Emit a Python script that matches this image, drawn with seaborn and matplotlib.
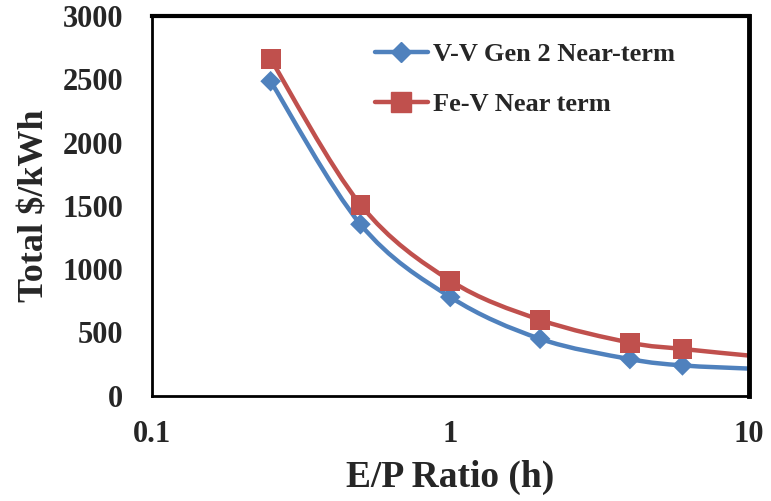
import numpy as np
import pandas as pd
import matplotlib
matplotlib.use("Agg")
import matplotlib.pyplot as plt
import seaborn as sns
from matplotlib.path import Path
from matplotlib.patches import PathPatch
from matplotlib.lines import Line2D
from matplotlib.ticker import FixedLocator, FixedFormatter, NullLocator

# datos
ratio = [0.25, 0.5, 1, 2, 4, 6]
vv_gen2 = [2485, 1355, 780, 450, 290, 240]
fev = [2660, 1510, 910, 600, 420, 370]
# la curva suavizada sigue hasta el borde derecho (E/P = 10)
ratio_fin = 10
vv_gen2_fin = 215
fev_fin = 318

series = ["V-V Gen 2 Near-term", "Fe-V Near term"]
colores = ["#4F81BD", "#C0504D"]
marcadores = ["D", "s"]
tamanos = [110, 205]

xticks = [0.1, 1, 10]
xtick_labels = ["0.1", "1", "10"]
yticks = [0, 500, 1000, 1500, 2000, 2500, 3000]

df = pd.DataFrame({
    "ratio": ratio * 2,
    "costo": vv_gen2 + fev,
    "serie": [series[0]] * len(ratio) + [series[1]] * len(ratio),
})

sns.set_style("white")
plt.rcParams["font.family"] = ["Liberation Serif", "DejaVu Serif"]
plt.rcParams["font.weight"] = "bold"


def curva_suave(xs, ys):
    # Catmull-Rom -> Bezier en espacio (log x, y), como la linea suavizada de Excel
    lx = np.log10(xs)
    pts = np.column_stack([lx, ys])
    verts = [pts[0]]
    codes = [Path.MOVETO]
    n = len(pts)
    for i in range(n - 1):
        p0 = pts[i - 1] if i > 0 else pts[i]
        p1 = pts[i]
        p2 = pts[i + 1]
        p3 = pts[i + 2] if i + 2 < n else pts[i + 1]
        c1 = p1 + (p2 - p0) / 6
        c2 = p2 - (p3 - p1) / 6
        verts += [c1, c2, p2]
        codes += [Path.CURVE4] * 3
    verts = np.array(verts)
    verts[:, 0] = 10 ** verts[:, 0]
    return Path(verts, codes)


fig = plt.figure(figsize=(7.71, 5.01), dpi=100)
ax = fig.add_axes([0.197, 0.21, 0.774, 0.758])
ax.set_xscale("log")

for ys, yfin, col in zip([vv_gen2, fev], [vv_gen2_fin, fev_fin], colores):
    p = curva_suave(ratio + [ratio_fin], ys + [yfin])
    ax.add_patch(PathPatch(p, facecolor="none", edgecolor=col, lw=3.2,
                           capstyle="round", joinstyle="round", zorder=2))

sns.scatterplot(data=df, x="ratio", y="costo", hue="serie", style="serie", size="serie",
                palette=colores, markers=marcadores, sizes=dict(zip(series, tamanos)),
                hue_order=series, style_order=series, size_order=series,
                edgecolor="none", legend=False, ax=ax, zorder=3)

ax.set_xlim(0.1, 10)
ax.set_ylim(0, 3000)
ax.xaxis.set_major_locator(FixedLocator(xticks))
ax.xaxis.set_major_formatter(FixedFormatter(xtick_labels))
ax.xaxis.set_minor_locator(NullLocator())
ax.set_yticks(yticks)

ax.tick_params(axis="both", which="major", labelsize=22, length=6.5, width=1.2,
               color="#888888", direction="out")
ax.tick_params(axis="y", pad=14)
ax.tick_params(axis="x", pad=11)
for lab in ax.get_xticklabels() + ax.get_yticklabels():
    lab.set_fontweight("bold")

for lado in ["top", "right", "left", "bottom"]:
    ax.spines[lado].set_color("black")
    ax.spines[lado].set_linewidth(2)
ax.spines["right"].set_linewidth(3.5)
ax.spines["top"].set_linewidth(3)

ax.set_xlabel("E/P Ratio (h)", fontsize=27, fontweight="bold", labelpad=8)
ax.set_ylabel("Total $/kWh", fontsize=26, fontweight="bold", labelpad=8)

handles = [Line2D([0], [0], color=c, lw=3.2, marker=m, markersize=np.sqrt(s), markeredgecolor=c)
           for c, m, s in zip(colores, marcadores, tamanos)]
ax.legend(handles, series, loc="upper left", bbox_to_anchor=(0.3735, 0.93),
          frameon=False, prop={"size": 19, "weight": "bold"}, handlelength=2.0,
          handletextpad=0.2, labelspacing=1.0, borderpad=0, borderaxespad=0)

fig.savefig("out.png", dpi=100)
